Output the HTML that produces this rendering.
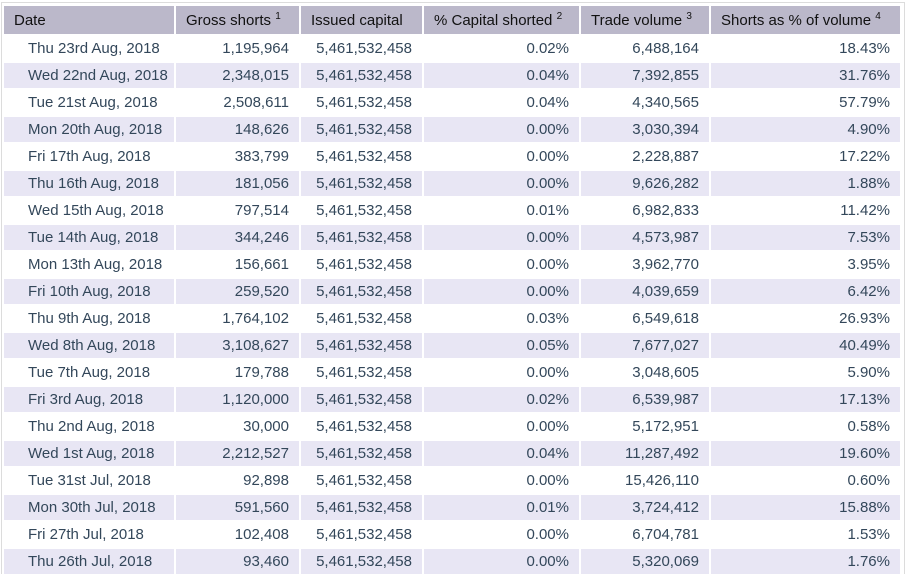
<!DOCTYPE html>
<html><head><meta charset="utf-8"><style>
body{margin:0;width:907px;height:574px;background:#fff;overflow:hidden;font-family:"Liberation Sans",Arial,sans-serif;}
.wrap{position:absolute;left:1px;top:2px;width:902px;height:571px;border:1px solid #dcdcdc;border-bottom:none;}
table{position:absolute;left:0;top:1px;border-collapse:separate;border-spacing:2px;table-layout:fixed;width:900px;}
th{background:#bbb8ca;color:#111;font-weight:normal;font-size:15px;height:28px;padding:0 10px;text-align:left;white-space:nowrap}
th sup{font-size:10px;vertical-align:6px}
td{height:25px;padding:0 10px;font-size:15px;color:#33475a;text-align:right;white-space:nowrap}
td:first-child{text-align:left;padding-left:24px}
tr:nth-child(even) td{background:#e8e6f4}
</style></head><body>
<div class="wrap">
<table>
<colgroup><col style="width:170px"><col style="width:123px"><col style="width:121px"><col style="width:155px"><col style="width:128px"><col style="width:189px"></colgroup>
<thead><tr>
<th>Date</th>
<th>Gross shorts <sup>1</sup></th>
<th>Issued capital</th>
<th>% Capital shorted <sup>2</sup></th>
<th>Trade volume <sup>3</sup></th>
<th>Shorts as % of volume <sup>4</sup></th>
</tr></thead>
<tbody id="tb"></tbody>
</table></div>
<script>
const rows=[
["Thu 23rd Aug, 2018","1,195,964","5,461,532,458","0.02%","6,488,164","18.43%"],
["Wed 22nd Aug, 2018","2,348,015","5,461,532,458","0.04%","7,392,855","31.76%"],
["Tue 21st Aug, 2018","2,508,611","5,461,532,458","0.04%","4,340,565","57.79%"],
["Mon 20th Aug, 2018","148,626","5,461,532,458","0.00%","3,030,394","4.90%"],
["Fri 17th Aug, 2018","383,799","5,461,532,458","0.00%","2,228,887","17.22%"],
["Thu 16th Aug, 2018","181,056","5,461,532,458","0.00%","9,626,282","1.88%"],
["Wed 15th Aug, 2018","797,514","5,461,532,458","0.01%","6,982,833","11.42%"],
["Tue 14th Aug, 2018","344,246","5,461,532,458","0.00%","4,573,987","7.53%"],
["Mon 13th Aug, 2018","156,661","5,461,532,458","0.00%","3,962,770","3.95%"],
["Fri 10th Aug, 2018","259,520","5,461,532,458","0.00%","4,039,659","6.42%"],
["Thu 9th Aug, 2018","1,764,102","5,461,532,458","0.03%","6,549,618","26.93%"],
["Wed 8th Aug, 2018","3,108,627","5,461,532,458","0.05%","7,677,027","40.49%"],
["Tue 7th Aug, 2018","179,788","5,461,532,458","0.00%","3,048,605","5.90%"],
["Fri 3rd Aug, 2018","1,120,000","5,461,532,458","0.02%","6,539,987","17.13%"],
["Thu 2nd Aug, 2018","30,000","5,461,532,458","0.00%","5,172,951","0.58%"],
["Wed 1st Aug, 2018","2,212,527","5,461,532,458","0.04%","11,287,492","19.60%"],
["Tue 31st Jul, 2018","92,898","5,461,532,458","0.00%","15,426,110","0.60%"],
["Mon 30th Jul, 2018","591,560","5,461,532,458","0.01%","3,724,412","15.88%"],
["Fri 27th Jul, 2018","102,408","5,461,532,458","0.00%","6,704,781","1.53%"],
["Thu 26th Jul, 2018","93,460","5,461,532,458","0.00%","5,320,069","1.76%"]];
const cols=["date","gross-shorts","issued-capital","capital-shorted","trade-volume","shorts-pct-volume"];
const tb=document.getElementById('tb');
rows.forEach(r=>{const tr=document.createElement('tr');


r.forEach((v,i)=>{const td=document.createElement('td');td.textContent=v;


tr.appendChild(td);});tb.appendChild(tr);});
</script>
</body></html>
